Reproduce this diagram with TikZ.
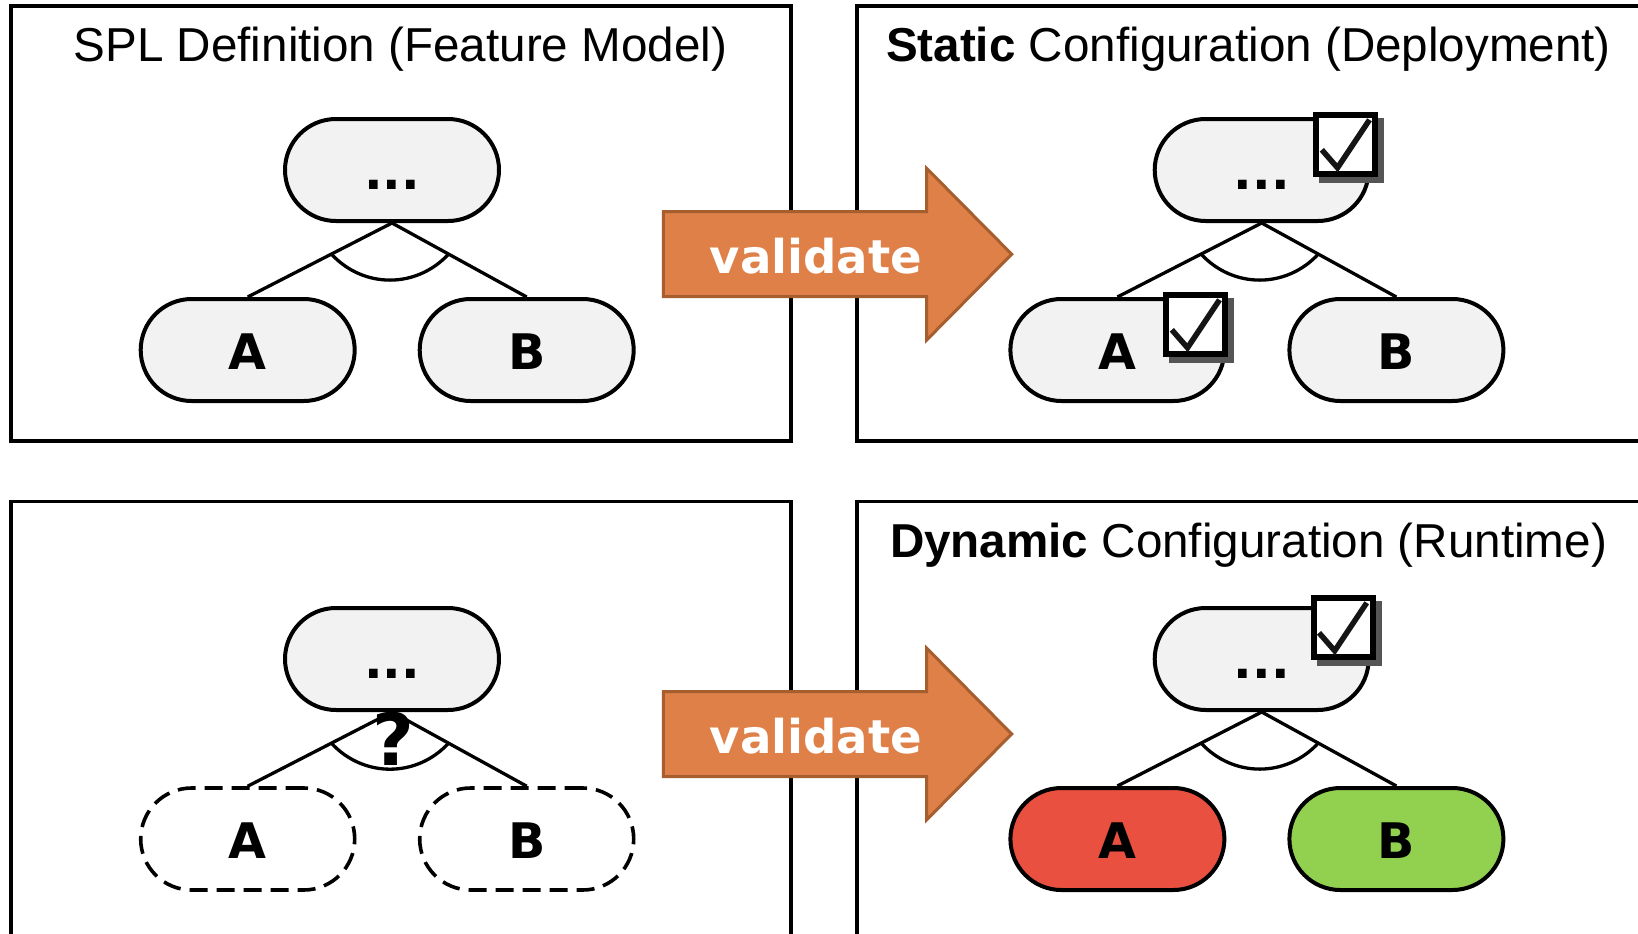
\documentclass[tikz,border=0pt]{standalone}
\usepackage{fontspec}
\setmainfont{Liberation Sans}
\newfontfamily\labelfont{DejaVu Sans}
\usetikzlibrary{calc}

\definecolor{nodegray}{HTML}{F2F2F2}
\definecolor{arrowfill}{HTML}{DE8048}
\definecolor{arrowline}{HTML}{A65E2E}
\definecolor{offred}{HTML}{E9503F}
\definecolor{ongreen}{HTML}{92D050}
\definecolor{shadowgray}{HTML}{555555}
\definecolor{tickblack}{HTML}{151515}

\tikzset{
  panel/.style={draw, line width=3.4pt},
  paneltitle/.style={anchor=base, inner sep=0pt, font=\fontsize{47.6}{57}\selectfont},
  feature/.style={draw, line width=4pt, fill=nodegray, rounded corners=51pt,
    minimum width=214pt, minimum height=102pt, inner sep=0pt,
    font=\labelfont\bfseries\fontsize{49}{49}\selectfont,
    text height=38.5pt, text depth=0pt},
  undecided/.style={feature, fill=none, line width=3.6pt, dash pattern=on 18pt off 9pt},
  deselected/.style={feature, fill=offred},
  selected/.style={feature, fill=ongreen},
  edge/.style={line width=3.3pt},
  blockarrow/.style={fill=arrowfill, draw=arrowline, line width=3pt, line join=miter},
  arrowtext/.style={anchor=base, inner sep=0pt, text=white,
    font=\labelfont\bfseries\fontsize{46.6}{50}\selectfont},
  qmark/.style={anchor=base, inner sep=0pt,
    font=\labelfont\bfseries\fontsize{72}{72}\selectfont},
  tickbox/.style={draw, line width=6pt, fill=white, minimum size=59pt, inner sep=0pt},
  boxshadow/.style={fill=shadowgray},
  tick/.style={draw=tickblack, line width=5.5pt, line join=miter},
}

% feature tree: prefix, root x, root y, children y, style of A, style of B
\newcommand\featuretree[6]{%
  \node[feature] (#1root) at (#2,#3) {...};
  \node[#5] (#1a) at (#2-144.3,#4) {A};
  \node[#6] (#1b) at (#2+134.7,#4) {B};
  \draw[edge] (#1a.north) -- (#1root.south) -- (#1b.north);
  \draw[edge] ($(#1root.south)!0.42!(#1a.north)$)
    .. controls +(32,34.7) and +(-32,34.7) ..
    ($(#1root.south)!0.42!(#1b.north)$);
}

% checked box with its drop shadow: name, centre x, centre y
\newcommand\checkedbox[3]{%
  \fill[boxshadow] (#2-26.5,#3-26.5) rectangle (#2+38.5,#3+38.5);
  \node[tickbox] (#1) at (#2,#3) {};
  \draw[tick] (#1.center) ++(-24,5) -- ++(15.7,18) -- ++(32,-48);
}

% block arrow labelled "validate": name, centre y
\newcommand\validatearrow[2]{%
  \filldraw[blockarrow] (663.3,#2-42.5) -- (926.7,#2-42.5) -- (926.7,#2-85.8)
    -- (1011.7,#2) -- (926.7,#2+85.8) -- (926.7,#2+42.5) -- (663.3,#2+42.5) -- cycle;
  \node[arrowtext] (#1) at (816,#2+19.2) {validate};
}

\begin{document}
\begin{tikzpicture}[x=1pt,y=-1pt]
\clip (0,0) rectangle (1638,934);
\fill[white] (0,0) rectangle (1638,934);

% the four panels
\draw[panel] (11,6) rectangle (791,441);
\draw[panel] (857,6) rectangle (1660,441);
\draw[panel] (11,501.5) rectangle (791,960);
\draw[panel] (857,501.5) rectangle (1660,960);

\node[paneltitle] (spltitle) at (400.5,62) {SPL Definition (Feature Model)};
\node[paneltitle] (statictitle) at (1248.5,62) {\textbf{Static} Configuration (Deployment)};
\node[paneltitle] (dynamictitle) at (1248.5,557.5) {\textbf{Dynamic} Configuration (Runtime)};

% validation arrows
\validatearrow{validatetop}{254.2}
\validatearrow{validatebottom}{734}

% feature models
\featuretree{spl}{392}{170}{350}{feature}{feature}
\featuretree{st}{1261.7}{170}{350}{feature}{feature}
\featuretree{open}{392}{659}{839}{undecided}{undecided}
\featuretree{dyn}{1261.7}{659}{839}{deselected}{selected}

\node[qmark] (question) at (393.5,765) {?};

% selections
\checkedbox{stroottick}{1345.8}{144.8}
\checkedbox{statick}{1195.8}{324.8}
\checkedbox{dynroottick}{1343}{627.8}
\end{tikzpicture}
\end{document}
